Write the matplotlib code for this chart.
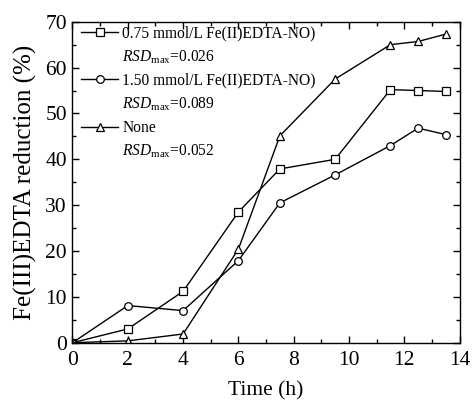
import matplotlib
matplotlib.use('Agg')
import matplotlib.pyplot as plt
from matplotlib.lines import Line2D
from matplotlib.ticker import MultipleLocator

plt.rcParams['font.family'] = ['Liberation Serif', 'DejaVu Serif']
plt.rcParams['mathtext.fontset'] = 'custom'
plt.rcParams['mathtext.rm'] = 'Liberation Serif'
plt.rcParams['mathtext.it'] = 'Liberation Serif:italic'

# time points (h)
time_h = [0, 2, 4, 6, 7.5, 9.5, 11.5, 12.5, 13.5]

# Fe(III)EDTA reduction (%)
red_075 = [0, 3.0, 11.2, 28.5, 37.9, 40.0, 55.2, 55.0, 54.8]
red_150 = [0, 8.1, 7.0, 17.9, 30.5, 36.6, 43.0, 46.8, 45.4]
red_none = [0, 0.4, 1.9, 20.4, 45.1, 57.5, 65.0, 65.7, 67.3]

labels = ['0.75 mmol/L Fe(II)EDTA-NO)', '1.50 mmol/L Fe(II)EDTA-NO)', 'None']
rsd_max = ['0.026', '0.089', '0.052']

fig = plt.figure(figsize=(4.72, 4.03), dpi=100)
ax = fig.add_axes([0.1536, 0.1496, 0.82, 0.7964])

kw = dict(color='black', lw=1, ms=5.5, mfc='white', mec='black', mew=0.9)
l1, = ax.plot(time_h, red_075, marker='s', **kw)
l2, = ax.plot(time_h, red_150, marker='o', **kw)
l3, = ax.plot(time_h, red_none, marker='^', **kw)

ax.set_xlim(0, 14)
ax.set_ylim(0, 70)
ax.xaxis.set_major_locator(MultipleLocator(2))
ax.xaxis.set_minor_locator(MultipleLocator(1))
ax.yaxis.set_major_locator(MultipleLocator(10))
ax.yaxis.set_minor_locator(MultipleLocator(5))
ax.tick_params(which='both', direction='in', top=True, right=True, labelsize=15.5, width=1)
ax.tick_params(which='major', length=5)
ax.tick_params(which='minor', length=3)
ax.tick_params(axis='x', which='major', pad=6)
ax.tick_params(axis='y', which='major', pad=4)
for s in ax.spines.values():
    s.set_linewidth(1)

ax.set_xlabel('Time (h)', fontsize=15.5, labelpad=8)
ax.set_ylabel('Fe(III)EDTA reduction (%)', fontsize=18, labelpad=6)

blank = Line2D([], [], linestyle='none')
handles, texts = [], []
for h, lab, r in zip([l1, l2, l3], labels, rsd_max):
    handles += [h, blank]
    texts += [lab, '$RSD$$_{\\rm max}$=' + r]
ax.legend(handles, texts, loc='upper left', frameon=False, fontsize=11.2,
          handlelength=2.4, handletextpad=0.25, labelspacing=0.45,
          borderaxespad=0.15, bbox_to_anchor=(0.0, 1.016))

fig.savefig('out.png', dpi=100)
